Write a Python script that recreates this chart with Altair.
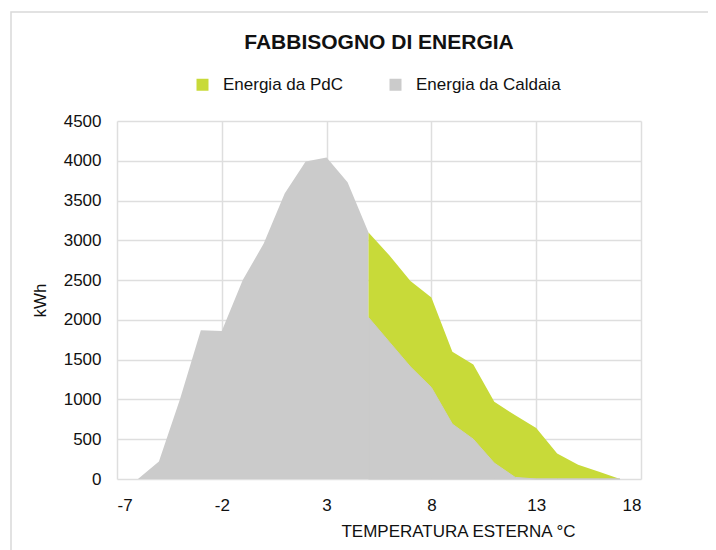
import altair as alt
import pandas as pd

# Temperature (°C) categories
temps = [-6, -5, -4, -3, -2, -1, 0, 1, 2, 3, 4, 5, 6, 7, 8, 9, 10, 11, 12, 13, 14, 15, 16, 17]
# Energy from boiler (kWh)
caldaia = [0, 220, 1000, 1870, 1860, 2500, 2960, 3590, 3990, 4040, 3730,
           2030, 1720, 1410, 1150, 690, 500, 200, 20, 0, 0, 0, 0, 0]
# Energy from heat pump (kWh); None where not present
pdc = [None, None, None, None, None, None, None, None, None, None, None,
       1070, 1090, 1080, 1130, 910, 940, 770, 780, 640, 320, 180, 90, 0]

x_ticks = [-7, -2, 3, 8, 13, 18]
y_ticks = [0, 500, 1000, 1500, 2000, 2500, 3000, 3500, 4000, 4500]

S_PDC = "Energia da PdC"
S_CAL = "Energia da Caldaia"

start_pdc = next(t for t, p in zip(temps, pdc) if p is not None)
rows_gray1, rows_green, rows_gray2 = [], [], []
for t, c, p in zip(temps, caldaia, pdc):
    tot = c + (p or 0)
    if t <= start_pdc:
        rows_gray1.append({"temp": t, "kwh": tot, "serie": S_CAL})
    if t >= start_pdc:
        rows_green.append({"temp": t, "kwh": tot, "serie": S_PDC})
        rows_gray2.append({"temp": t, "kwh": c, "serie": S_CAL})

font = "Liberation Sans"
xscale = alt.Scale(domain=[-7, 18], nice=False, zero=False)
yscale = alt.Scale(domain=[0, 4500], nice=False)
cscale = alt.Scale(domain=[S_PDC, S_CAL], range=["#c8da39", "#cbcbcb"])

xenc = alt.X("temp:Q", scale=xscale,
             axis=alt.Axis(values=x_ticks, title="TEMPERATURA ESTERNA °C",
                           labelExpr="'' + datum.value",
                           titleX=341, titleY=57, titleAlign="center",
                           titleBaseline="alphabetic", labelPadding=18))
yenc = alt.Y("kwh:Q", scale=yscale, stack=None,
             axis=alt.Axis(values=y_ticks, title="kWh", titleX=-77, titleY=179,
                           labelExpr="'' + datum.value",
                           titleAlign="center", titleBaseline="middle",
                           labelPadding=16))
cenc = alt.Color("serie:N", scale=cscale,
                 legend=alt.Legend(title=None, orient="none", direction="horizontal",
                                   legendX=77, legendY=-45, symbolType="square",
                                   symbolSize=144, symbolStrokeWidth=0,
                                   columnPadding=43, labelOffset=12, padding=0))

def area(rows, **kw):
    return alt.Chart(pd.DataFrame(rows)).mark_area(opacity=1, interpolate="linear", **kw).encode(
        x=xenc, y=yenc, color=cenc)

border = alt.Chart(pd.DataFrame({"a": [0]})).mark_rect(
    fill=None, stroke="#d9d9d9", strokeWidth=1.5).encode(
    x=alt.value(-106), y=alt.value(-109), x2=alt.value(800), y2=alt.value(600))

chart = alt.layer(border, area(rows_gray1), area(rows_green),
                  area(rows_gray2, stroke="#cbcbcb", strokeWidth=1)).properties(
    width=524, height=358,
    autosize=alt.AutoSizeParams(type="none"),
    padding={"left": 109, "top": 113, "right": 67, "bottom": 71},
    title=alt.TitleParams("FABBISOGNO DI ENERGIA", font=font, fontSize=21,
                          fontWeight="bold", color="#111", anchor="middle",
                          baseline="alphabetic", offset=-59)
).configure_view(stroke=None).configure_axis(
    grid=True, gridColor="#dedede", gridWidth=1.5, domain=False, ticks=False,
    labelFont=font, labelFontSize=17, labelColor="#111",
    titleFont=font, titleFontSize=17, titleColor="#111", titleFontWeight="normal"
).configure_legend(labelFont=font, labelFontSize=17, labelColor="#111")

chart.save("out.html", embed_options={"renderer": "svg", "actions": False})
